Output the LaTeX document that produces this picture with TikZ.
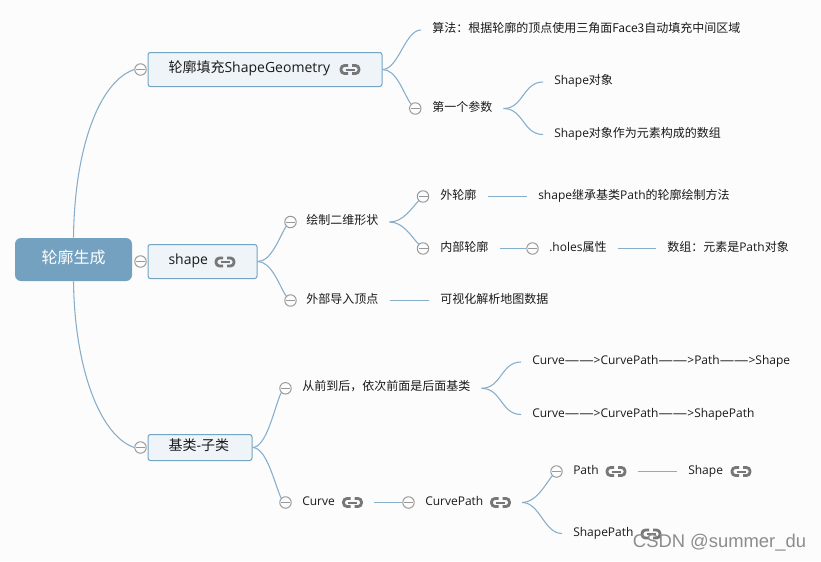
\documentclass[tikz,border=0pt]{standalone}
\usepackage{fontspec}
\setmainfont{Open Sans}
\newfontfamily\zh{Noto Sans CJK SC}
\newfontfamily\dashfont[FakeStretch=1.2]{Open Sans}
\definecolor{bgc}{HTML}{FCFCFC}
\definecolor{linec}{HTML}{86AECA}
\definecolor{rootc}{HTML}{74A1BF}
\definecolor{boxc}{HTML}{EEF4F8}
\definecolor{boxb}{HTML}{74A4C4}
\definecolor{circc}{HTML}{999999}
\definecolor{iconc}{HTML}{777777}
\definecolor{inkc}{HTML}{1A1A1A}
\tikzset{
  conn/.style={draw=linec,line width=0.8pt},
  rootbox/.style={draw=none,fill=rootc,rounded corners=4.5pt,minimum width=87.75pt,minimum height=32.25pt,inner sep=0pt,
    text=white,font=\fontsize{12}{14}\selectfont,text height=9pt,text depth=3.75pt},
  topicbox/.style={draw=boxb,fill=boxc,line width=0.75pt,rounded corners=1.8pt,anchor=west,inner ysep=0pt,inner xsep=15.4pt,
    minimum height=25.5pt,align=left,text=inkc,font=\fontsize{10.5}{13}\selectfont,text height=7.9pt,text depth=3.4pt},
  lab/.style={anchor=west,inner ysep=0pt,inner xsep=8.25pt,text=inkc,font=\fontsize{9}{11}\selectfont,text height=6.75pt,text depth=3pt},
  toggle/.style={circle,draw=circc,fill=bgc,line width=0.75pt,minimum size=8.6pt,inner sep=0pt,
    path picture={\draw[circc,line width=0.75pt,shift={(path picture bounding box.center)}] (-4.5,0)--(4.5,0);}},
  linkicon/.style={minimum width=32pt,minimum height=11pt,inner sep=0pt,
    path picture={\begin{scope}[shift={(path picture bounding box.center)},iconc,line width=2.1pt,rounded corners=2.6pt]
      \draw (-2,-4)--(-9,-4)--(-9,4)--(-2,4);
      \draw (2,-4)--(9,-4)--(9,4)--(2,4);
      \draw[line width=1.5pt] (-4.5,0)--(4.5,0);
    \end{scope}}},
}
\newcommand{\lng}{{\dashfont ——}}
\begin{document}
\begin{tikzpicture}[x=0.75pt,y=-0.75pt]
\fill[bgc] (0,0) rectangle (821,561);
\useasboundingbox (0,0) rectangle (821,561);

% main topics
\node[rootbox] (root) at (73.5,259.5) {\zh 轮廓生成};
\node[topicbox,text width=144.7pt] (t1) at (147.5,69.5) {{\zh 轮廓填充}ShapeGeometry};
\node[topicbox,text width=51pt] (t2) at (147.5,261.5) {shape};
\node[topicbox,text width=47.2pt,minimum height=19.5pt] (t3) at (147.5,447.5) {{\zh 基类}-{\zh 子类}};
\node[toggle] (c1) at (140.5,69.5) {};
\node[toggle] (c2) at (140.5,261.5) {};
\node[toggle] (c3) at (140.5,447.5) {};
\node[linkicon] at (350,69.5) {};
\node[linkicon] at (225,262) {};

% first branch
\node[lab] (a1) at (421,30) {\zh 算法：根据轮廓的顶点使用三角面Face3自动填充中间区域};
\node[toggle] (ca2) at (415.3,108.5) {};
\node[lab] (a2) at (421,108.5) {\zh 第一个参数};
\node[lab] (a3) at (543,82) {Shape{\zh 对象}};
\node[lab] (a4) at (543,134.5) {Shape{\zh 对象作为元素构成的数组}};

% second branch
\node[toggle] (cb1) at (290.5,222) {};
\node[lab] (b1) at (295,222) {\zh 绘制二维形状};
\node[toggle] (cb2) at (290.5,300.5) {};
\node[lab] (b2) at (295,300.5) {\zh 外部导入顶点};
\node[lab] (b3) at (429,300.5) {\zh 可视化解析地图数据};
\node[toggle] (cb4) at (423,196.5) {};
\node[lab] (b4) at (429,196.5) {\zh 外轮廓};
\node[lab] (b5) at (527,196.5) {shape{\zh 继承基类}Path{\zh 的轮廓绘制方法}};
\node[toggle] (cb6) at (423,248.5) {};
\node[lab] (b6) at (429,248.5) {\zh 内部轮廓};
\node[toggle] (cb7) at (532.5,248.5) {};
\node[lab] (b7) at (538,248.5) {.holes{\zh 属性}};
\node[lab] (b8) at (656,248.5) {{\zh 数组：元素是}Path{\zh 对象}};

% third branch
\node[toggle] (cc1) at (285.5,388.3) {};
\node[lab] (d1) at (291,388.3) {\zh 从前到后，依次前面是后面基类};
\node[lab] (d2) at (521,362) {Curve\lng>CurvePath\lng>Path\lng>Shape};
\node[lab] (d3) at (521,414.5) {Curve\lng>CurvePath\lng>ShapePath};
\node[toggle] (cc4) at (285.5,502.5) {};
\node[lab] (d4) at (291,502.5) {Curve};
\node[linkicon] (i4) at (352.5,502.5) {};
\node[toggle] (cc5) at (408.5,502.5) {};
\node[lab] (d5) at (414,502.5) {CurvePath};
\node[linkicon] (i5) at (500.5,502.5) {};
\node[toggle] (cc6) at (556.5,471.5) {};
\node[lab] (d6) at (562,471.5) {Path};
\node[linkicon] (i6) at (616,471.5) {};
\node[lab] (d7) at (677,471.5) {Shape};
\node[linkicon] at (741,471.5) {};
\node[lab] (d8) at (562,533.5) {ShapePath};
\node[linkicon] at (651,534) {};

% connectors
\draw[conn] (root.north) .. controls +(1,-90) and +(-35,12) .. (c1.west);
\draw[conn] (root.south) .. controls +(1,85) and +(-35,-12) .. (c3.west);
\draw[conn] (t1.east) .. controls +(16,0) and +(-16,0) .. (a1.west);
\draw[conn] (t1.east) .. controls +(14,0) and +(-8,-12) .. (ca2.north west);
\draw[conn] (a2.east) .. controls +(20,0) and +(-20,0) .. (a3.west);
\draw[conn] (a2.east) .. controls +(20,0) and +(-20,0) .. (a4.west);
\draw[conn] (t2.east) .. controls +(14,0) and +(-7,11) .. (cb1.south west);
\draw[conn] (t2.east) .. controls +(14,0) and +(-7,-11) .. (cb2.north west);
\draw[conn] (b2.east) -- (b3.west);
\draw[conn] (b1.east) .. controls +(14,0) and +(-7,7) .. (cb4.south west);
\draw[conn] (b1.east) .. controls +(14,0) and +(-7,-7) .. (cb6.north west);
\draw[conn] (b4.east) -- (b5.west);
\draw[conn] (b6.east) -- (cb7.west);
\draw[conn] (b7.east) -- (b8.west);
\draw[conn] (t3.east) .. controls +(14,0) and +(-7,16) .. (cc1.south west);
\draw[conn] (t3.east) .. controls +(14,0) and +(-7,-16) .. (cc4.north west);
\draw[conn] (d1.east) .. controls +(20,0) and +(-20,0) .. (d2.west);
\draw[conn] (d1.east) .. controls +(20,0) and +(-20,0) .. (d3.west);
\draw[conn] (i4.east) -- (cc5.west);
\draw[conn] (i5.east) .. controls +(14,0) and +(-7,9) .. (cc6.south west);
\draw[conn] (i5.east) .. controls +(18,0) and +(-18,0) .. (d8.west);
\draw[conn] (i6.east) -- (d7.west);

% watermark
\node[anchor=center,inner sep=0pt,text=black!45,font=\fontsize{13.8}{15}\selectfont] (wm) at (719.5,543) {\fontspec{Liberation Sans}CSDN @summer\_du};
\end{tikzpicture}
\end{document}
